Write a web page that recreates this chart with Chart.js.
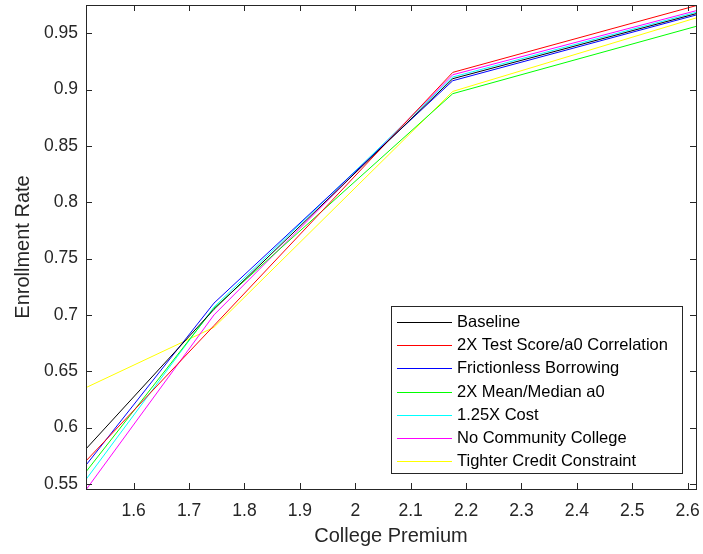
<!DOCTYPE html>
<html>
<head>
<meta charset="utf-8">
<script src="https://cdn.jsdelivr.net/npm/chart.js@4"></script>
<style>
    html, body { margin: 0; padding: 0; background: #ffffff; }
    #wrap { width: 703px; height: 554px; }
</style>
</head>
<body>
<div id="wrap"><canvas id="enrollChart" width="703" height="554"></canvas></div>
<script>
// ============================================
// DATA
// ============================================
const premium = [1.514, 1.745, 2.176, 2.615];

const seriesNames = [
    'Baseline',
    '2X Test Score/a0 Correlation',
    'Frictionless Borrowing',
    '2X Mean/Median a0',
    '1.25X Cost',
    'No Community College',
    'Tighter Credit Constraint'
];

const baseline     = [0.5811, 0.7050, 0.9097, 0.9674];
const testScore2x  = [0.5704, 0.6905, 0.9153, 0.9745];
const frictionless = [0.5667, 0.7105, 0.9079, 0.9662];
const meanA0x2     = [0.5608, 0.7060, 0.8964, 0.9561];
const cost125      = [0.5540, 0.7070, 0.9112, 0.9686];
const noCC         = [0.5448, 0.7000, 0.9132, 0.9700];
const tighter      = [0.6355, 0.6890, 0.8984, 0.9636];

const seriesValues = [baseline, testScore2x, frictionless, meanA0x2, cost125, noCC, tighter];
const lineColors = ['#000000', '#ff0000', '#0000ff', '#00ff00', '#00ffff', '#ff00ff', '#ffff00'];

const xTitle = 'College Premium';
const yTitle = 'Enrollment Rate';

// ============================================
// PLUGINS
// ============================================
const axisColor = '#262626';
const font = 'Liberation Sans, Arial, sans-serif';

// MATLAB style box with inward ticks
const boxTicks = {
    id: 'boxTicks',
    afterDraw(chart) {
        const { ctx, chartArea: a, scales } = chart;
        const len = 6;
        ctx.save();
        ctx.strokeStyle = axisColor;
        ctx.lineWidth = 1;
        ctx.beginPath();
        scales.x.ticks.forEach(t => {
            const px = Math.round(scales.x.getPixelForValue(t.value)) + 0.5;
            ctx.moveTo(px, a.bottom); ctx.lineTo(px, a.bottom - len);
            ctx.moveTo(px, a.top); ctx.lineTo(px, a.top + len);
        });
        scales.y.ticks.forEach(t => {
            const py = Math.round(scales.y.getPixelForValue(t.value)) + 0.5;
            ctx.moveTo(a.left, py); ctx.lineTo(a.left + len, py);
            ctx.moveTo(a.right, py); ctx.lineTo(a.right - len, py);
        });
        ctx.stroke();
        ctx.strokeRect(Math.round(a.left) + 0.5, Math.round(a.top) + 0.5,
            Math.round(a.right - a.left), Math.round(a.bottom - a.top));
        ctx.restore();
    }
};

// legend box in lower right corner
const insideLegend = {
    id: 'insideLegend',
    afterDraw(chart) {
        const { ctx, chartArea: a } = chart;
        const w = 291, h = 167;
        const right = a.right - 14, bottom = a.bottom - 16;
        const left = right - w, top = bottom - h;
        ctx.save();
        ctx.fillStyle = '#ffffff';
        ctx.fillRect(left, top, w, h);
        ctx.strokeStyle = axisColor;
        ctx.lineWidth = 1;
        ctx.strokeRect(Math.round(left) + 0.5, Math.round(top) + 0.5, w, h);
        ctx.font = '16.5px ' + font;
        ctx.textBaseline = 'middle';
        chart.data.datasets.forEach((ds, i) => {
            const y = Math.round(top + 15.6 + i * 23.3) + 0.5;
            ctx.strokeStyle = ds.borderColor;
            ctx.beginPath();
            ctx.moveTo(left + 6, y);
            ctx.lineTo(left + 61, y);
            ctx.stroke();
            ctx.fillStyle = '#000000';
            ctx.fillText(ds.label, left + 66, y);
        });
        ctx.restore();
    }
};

// ============================================
// CHART
// ============================================
function fmt(v) {
    return String(Number(v.toFixed(2)));
}

const datasets = seriesValues.map((vals, i) => ({
    label: seriesNames[i],
    data: premium.map((x, j) => ({ x: x, y: vals[j] })),
    borderColor: lineColors[i],
    backgroundColor: lineColors[i],
    borderWidth: 1,
    pointRadius: 0,
    tension: 0,
    fill: false
}));

const ctx = document.getElementById('enrollChart').getContext('2d');
new Chart(ctx, {
    type: 'line',
    data: { datasets: datasets },
    options: {
        responsive: false,
        animation: false,
        layout: { padding: { top: 5, right: 7, left: 0, bottom: 0 } },
        plugins: {
            legend: { display: false },
            tooltip: { enabled: false }
        },
        scales: {
            x: {
                type: 'linear',
                min: 1.514,
                max: 2.615,
                grid: { display: false, drawTicks: false },
                border: { display: false },
                ticks: {
                    stepSize: 0.1,
                    includeBounds: false,
                    maxRotation: 0,
                    autoSkip: false,
                    padding: 12,
                    color: axisColor,
                    font: { family: font, size: 17.5 },
                    callback: v => fmt(v)
                },
                title: {
                    display: true,
                    text: xTitle,
                    color: axisColor,
                    font: { family: font, size: 20 },
                    padding: { top: 0, bottom: 6 }
                },
                afterFit: s => {
                    s.height = 65;
                    s.paddingLeft = 0;
                    s.paddingRight = 0;
                }
            },
            y: {
                type: 'linear',
                min: 0.5455,
                max: 0.9751,
                grid: { display: false, drawTicks: false },
                border: { display: false },
                ticks: {
                    stepSize: 0.05,
                    includeBounds: false,
                    autoSkip: false,
                    padding: 8,
                    color: axisColor,
                    font: { family: font, size: 17.5 },
                    callback: v => fmt(v)
                },
                title: {
                    display: true,
                    text: yTitle,
                    color: axisColor,
                    font: { family: font, size: 20 },
                    padding: { top: 11, bottom: 0 }
                },
                afterFit: s => {
                    s.width = 86;
                    s.paddingTop = 0;
                    s.paddingBottom = 0;
                }
            }
        }
    },
    plugins: [boxTicks, insideLegend]
});
</script>
</body>
</html>
